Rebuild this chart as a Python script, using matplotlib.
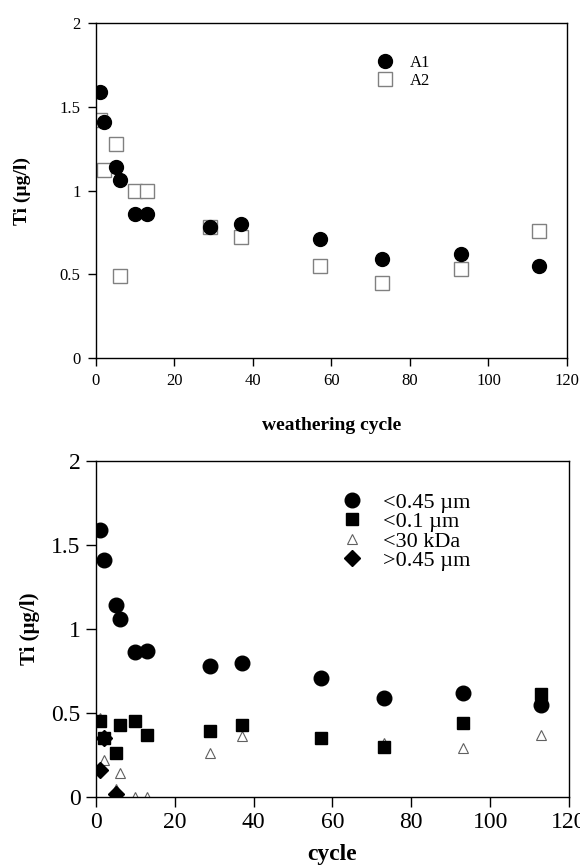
import matplotlib
matplotlib.use("Agg")
import matplotlib.pyplot as plt
import numpy as np

plt.rcParams['font.family'] = ['Liberation Serif', 'DejaVu Serif']

# data
cycles = [1, 2, 5, 6, 10, 13, 29, 37, 57, 73, 93, 113]
a1 = [1.59, 1.41, 1.14, 1.06, 0.86, 0.86, 0.78, 0.80, 0.71, 0.59, 0.62, 0.55]
a2 = [1.42, 1.12, 1.28, 0.49, 1.00, 1.00, 0.78, 0.72, 0.55, 0.45, 0.53, 0.76]

lt045 = [1.59, 1.41, 1.14, 1.06, 0.86, 0.87, 0.78, 0.80, 0.71, 0.59, 0.62, 0.55]
lt01 = [0.45, 0.35, 0.26, 0.43, 0.45, 0.37, 0.39, 0.43, 0.35, 0.30, 0.44, 0.61]
lt30k = [0.47, 0.22, 0.05, 0.14, 0.0, 0.0, 0.26, 0.36, 0.35, 0.32, 0.29, 0.37]
gt045_cycles = [1, 2, 5]
gt045 = [0.16, 0.35, 0.02]

fig = plt.figure(figsize=(5.8, 8.66), dpi=100)
ax1 = fig.add_axes([0.1655, 0.5866, 0.812, 0.3868])
ax2 = fig.add_axes([0.1655, 0.0797, 0.8155, 0.388])

# top panel
ax1.plot(cycles, a1, 'o', color='black', ms=10, label='A1', zorder=3)
ax1.plot(cycles, a2, 's', mfc='white', mec='#808080', mew=1.0, ms=10, label='A2', zorder=2)
ax1.set_xlim(0, 120)
ax1.set_ylim(0, 2)
ax1.set_xticks(np.arange(0, 121, 20))
ax1.set_yticks([0, 0.5, 1, 1.5, 2])
ax1.set_yticklabels(['0', '0.5', '1', '1.5', '2'])
ax1.tick_params(direction='out', length=6, width=1, labelsize=12, pad=5)
ax1.set_xlabel('weathering cycle', fontsize=14, fontweight='bold', labelpad=20)
ax1.set_ylabel('Ti (µg/l)', fontsize=14, fontweight='bold', labelpad=21)
ax1.legend(loc='upper left', bbox_to_anchor=(0.574, 0.93), frameon=False,
           fontsize=12, handlelength=1.2, handletextpad=0.9, labelspacing=0.15,
           borderpad=0)

# bottom panel
ax2.plot(cycles, lt045, 'o', color='black', ms=10.5, label='<0.45 µm', zorder=3)
ax2.plot(cycles, lt01, 's', color='black', ms=8, label='<0.1 µm', zorder=4)
ax2.plot(cycles, lt30k, '^', mfc='white', mec='#606060', mew=0.8, ms=7, label='<30 kDa', zorder=2)
ax2.plot(gt045_cycles, gt045, 'D', color='black', ms=8, label='>0.45 µm', zorder=5)
ax2.set_xlim(0, 120)
ax2.set_ylim(0, 2)
ax2.set_xticks(np.arange(0, 121, 20))
ax2.set_yticks([0, 0.5, 1, 1.5, 2])
ax2.set_yticklabels(['0', '0.5', '1', '1.5', '2'])
ax2.tick_params(direction='out', length=7, width=1, labelsize=17, pad=4)
ax2.set_xlabel('cycle', fontsize=17, fontweight='bold', labelpad=8)
ax2.set_ylabel('Ti (µg/l)', fontsize=15, fontweight='bold', labelpad=8)
ax2.legend(loc='upper left', bbox_to_anchor=(0.49, 0.94), frameon=False,
           fontsize=16, handlelength=1.2, handletextpad=0.8, labelspacing=-0.05,
           borderpad=0)

for ax in (ax1, ax2):
    for sp in ax.spines.values():
        sp.set_linewidth(1)

fig.savefig('out.png', dpi=100)
